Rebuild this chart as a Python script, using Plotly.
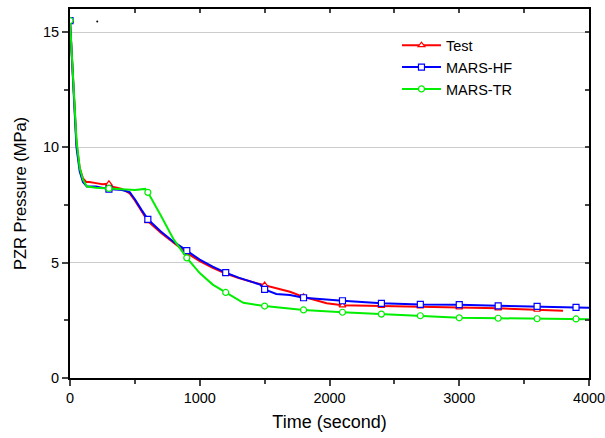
import plotly.graph_objects as go

# ---- data ----
test_t = [0, 15, 30, 50, 75, 100, 125, 150, 200, 250, 300, 320, 400, 460, 500, 550, 600, 700, 800, 900,
          1000, 1100, 1200, 1300, 1400, 1500, 1593, 1695, 1800, 1978, 2100, 2400, 2700, 3000, 3300, 3600, 3800]
test_p = [15.5, 14.0, 12.4, 10.2, 9.1, 8.65, 8.5, 8.5, 8.45, 8.4, 8.42, 8.3, 8.2, 8.0, 7.7, 7.25, 6.8, 6.3, 5.85, 5.42,
          5.07, 4.78, 4.53, 4.33, 4.17, 4.03, 3.89, 3.74, 3.52, 3.24, 3.15, 3.13, 3.11, 3.06, 3.02, 2.96, 2.92]

hf_t = [0, 15, 30, 50, 75, 100, 130, 200, 300, 400, 460, 500, 550, 600, 700, 800, 900, 1000, 1100, 1200,
        1300, 1400, 1465, 1500, 1590, 1695, 1800, 2100, 2400, 2700, 3000, 3300, 3600, 3900, 4000]
hf_p = [15.5, 13.8, 12.2, 10.0, 8.95, 8.5, 8.3, 8.3, 8.19, 8.15, 8.06, 7.75, 7.3, 6.88, 6.35, 5.9, 5.52, 5.13, 4.83, 4.57,
        4.35, 4.18, 4.05, 3.84, 3.64, 3.6, 3.48, 3.35, 3.24, 3.19, 3.18, 3.13, 3.11, 3.06, 3.05]

tr_t = [0, 15, 30, 50, 75, 100, 130, 200, 300, 400, 500, 580, 600, 700, 800, 900, 1000, 1100, 1200, 1336,
        1500, 1800, 2100, 2400, 2700, 3000, 3300, 3600, 3900, 4000]
tr_p = [15.5, 14.0, 12.4, 10.3, 9.1, 8.6, 8.3, 8.25, 8.22, 8.18, 8.15, 8.2, 8.05, 7.05, 6.0, 5.21, 4.55, 4.05, 3.71, 3.26,
        3.12, 2.95, 2.85, 2.77, 2.70, 2.61, 2.59, 2.57, 2.56, 2.55]

marker_step = 300
stray_t = [210]
stray_p = [15.46]

x_ticks = [0, 1000, 2000, 3000, 4000]
y_ticks = [0, 5, 10, 15]

series = [
    ("Test", test_t, test_p, "#ff0000", "triangle-up"),
    ("MARS-HF", hf_t, hf_p, "#0000ff", "square"),
    ("MARS-TR", tr_t, tr_p, "#00ee00", "circle"),
]

fig = go.Figure()
for name, t, p, col, sym in series:
    fig.add_trace(go.Scatter(x=t, y=p, mode="lines", line=dict(color=col, width=2),
                             showlegend=False, legendgroup=name, hoverinfo="skip"))
    mt = [a for a in t if a % marker_step == 0]
    mp = [b for a, b in zip(t, p) if a % marker_step == 0]
    fig.add_trace(go.Scatter(x=mt, y=mp, mode="markers",
                             marker=dict(symbol=sym, size=6, color="white", line=dict(color=col, width=1.2)),
                             showlegend=False, legendgroup=name))
    fig.add_trace(go.Scatter(x=[None], y=[None], mode="lines+markers", name=name, legendgroup=name,
                             line=dict(color=col, width=2),
                             marker=dict(symbol=sym, size=6, color="white", line=dict(color=col, width=1.2))))

fig.add_trace(go.Scatter(x=stray_t, y=stray_p, mode="markers", marker=dict(color="black", size=2),
                         showlegend=False))
# dummy trace for mirrored axes
fig.add_trace(go.Scatter(x=[None], y=[None], xaxis="x2", yaxis="y2", showlegend=False))

FAM = "Liberation Sans, Arial, sans-serif"
tick_font = dict(family=FAM, size=14.5, color="black")

fig.update_layout(
    width=605, height=438,
    margin=dict(l=70, r=16, t=9, b=60, autoexpand=False),
    paper_bgcolor="white", plot_bgcolor="white",
    font=dict(family=FAM, color="black"),
    xaxis=dict(range=[0, 4000], tickvals=x_ticks, ticks="outside", ticklen=6, tickwidth=1.5,
               minor=dict(dtick=500, ticks="outside", ticklen=4, tickwidth=1.5),
               showline=True, linecolor="black", linewidth=2, showgrid=False, zeroline=False,
               automargin=False, ticklabeloverflow="allow",
               title=dict(text="Time (second)", font=dict(size=18), standoff=10), tickfont=tick_font),
    yaxis=dict(range=[0, 16], tickvals=y_ticks, ticks="outside", ticklen=6, tickwidth=1.5,
               minor=dict(dtick=2.5, ticks="outside", ticklen=4, tickwidth=1.5),
               showline=True, linecolor="black", linewidth=2, showgrid=True, gridcolor="#cccccc",
               gridwidth=1, zeroline=False, automargin=False, ticklabeloverflow="allow",
               title=dict(text="PZR Pressure (MPa)", font=dict(size=16.5), standoff=12), tickfont=tick_font),
    xaxis2=dict(range=[0, 4000], overlaying="x", side="top", dtick=500, tick0=0, ticks="inside", ticklen=4,
                tickwidth=1.5, showticklabels=False, showline=True, linecolor="black", linewidth=2,
                showgrid=False, zeroline=False, automargin=False),
    yaxis2=dict(range=[0, 16], overlaying="y", side="right", dtick=2.5, tick0=0, ticks="inside", ticklen=4,
                tickwidth=1.5, showticklabels=False, showline=True, linecolor="black", linewidth=2,
                showgrid=False, zeroline=False, automargin=False),
    legend=dict(x=0.63, y=0.945, xanchor="left", yanchor="top", bgcolor="rgba(0,0,0,0)",
                font=dict(size=14.5), tracegroupgap=0, itemwidth=39),
    showlegend=True,
)

fig.write_html("out.html")
